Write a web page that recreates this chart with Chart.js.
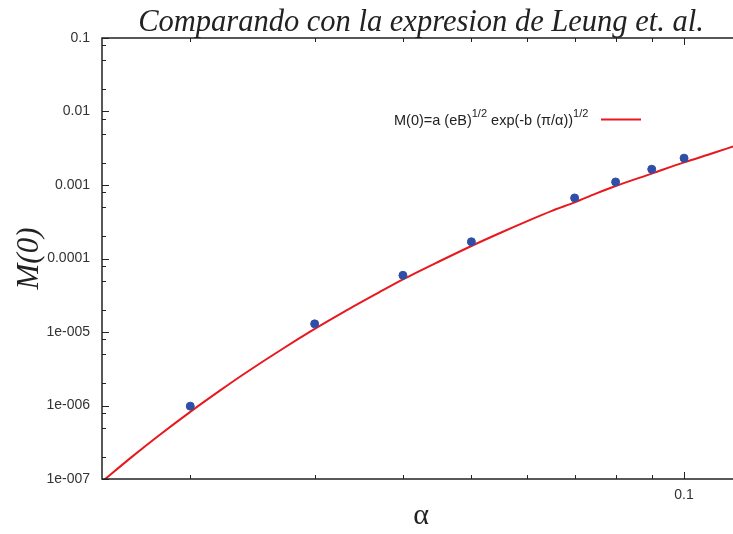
<!DOCTYPE html>
<html>
<head>
<meta charset="utf-8">
<script src="https://cdn.jsdelivr.net/npm/chart.js@4.4.1/dist/chart.umd.min.js"></script>
<style>
  html, body { margin: 0; padding: 0; background: #fff; }
  #wrap { width: 733px; height: 534px; overflow: hidden; }
</style>
</head>
<body>
<div id="wrap"><canvas id="myChart" width="760" height="534"></canvas></div>
<script>
// measured points M(0) vs alpha
const alphaPts = [0.02, 0.03, 0.04, 0.05, 0.07, 0.08, 0.09, 0.1];
const mPts = [9.8e-7, 1.29e-5, 5.9e-5, 1.69e-4, 6.67e-4, 1.10e-3, 1.64e-3, 2.32e-3];

// fitted curve
const fitAlpha = [0.015, 0.0165, 0.018, 0.02, 0.022, 0.024, 0.027, 0.03, 0.033, 0.037, 0.04, 0.045,
    0.05, 0.055, 0.06, 0.065, 0.07, 0.075, 0.08, 0.09, 0.1, 0.11, 0.12];
const fitM = [9.2e-8, 1.97e-7, 3.82e-7, 8.2e-7, 1.58e-6, 2.81e-6, 5.87e-6, 1.1e-5, 1.88e-5, 3.46e-5, 5.2e-5, 9.1e-5,
    1.48e-4, 2.24e-4, 3.23e-4, 4.45e-4, 5.8e-4, 7.64e-4, 9.7e-4, 1.43e-3, 2.03e-3, 2.72e-3, 3.6e-3];

const xTicks = [0.02, 0.03, 0.04, 0.05, 0.06, 0.07, 0.08, 0.09, 0.1];
const xLabels = { 0.1: '0.1' };
const yTicks = [1e-7, 1e-6, 1e-5, 1e-4, 1e-3, 1e-2, 1e-1];
const yLabels = ['1e-007', '1e-006', '1e-005', '0.0001', '0.001', '0.01', '0.1'];
const yMinorFactors = [2, 5, 8];

const legendParts = [
    { text: 'M(0)=a (eB)', sup: false },
    { text: '1/2', sup: true },
    { text: ' exp(-b (\u03c0/\u03b1))', sup: false },
    { text: '1/2', sup: true }
];

const frameAndTicks = {
    id: 'frameAndTicks',
    afterDatasetsDraw(chart) {
        const ctx = chart.ctx;
        const a = chart.chartArea;
        const xs = chart.scales.x;
        const ys = chart.scales.y;
        ctx.save();
        ctx.strokeStyle = '#222';
        ctx.lineWidth = 1;
        // y ticks, inward on both sides
        yTicks.forEach(v => {
            const y = Math.round(ys.getPixelForValue(v)) + 0.5;
            ctx.beginPath();
            ctx.moveTo(a.left, y); ctx.lineTo(a.left + 7, y);
            ctx.moveTo(a.right, y); ctx.lineTo(a.right - 7, y);
            ctx.stroke();
            yMinorFactors.forEach(f => {
                const mv = v * f / 10;
                if (mv <= 1e-7) return;
                const my = Math.round(ys.getPixelForValue(mv)) + 0.5;
                ctx.beginPath();
                ctx.moveTo(a.left, my); ctx.lineTo(a.left + 4, my);
                ctx.moveTo(a.right, my); ctx.lineTo(a.right - 4, my);
                ctx.stroke();
            });
        });
        // x ticks, inward top and bottom
        xTicks.forEach(v => {
            const x = Math.round(xs.getPixelForValue(v)) + 0.5;
            const len = v === 0.1 ? 7 : 4;
            ctx.beginPath();
            ctx.moveTo(x, a.bottom); ctx.lineTo(x, a.bottom - len);
            ctx.moveTo(x, a.top); ctx.lineTo(x, a.top + len);
            ctx.stroke();
        });
        // frame
        ctx.lineWidth = 1.5;
        ctx.strokeRect(a.left, a.top, a.right - a.left, a.bottom - a.top);
        ctx.restore();
    },
    afterDraw(chart) {
        // legend with superscripts
        const ctx = chart.ctx;
        ctx.save();
        ctx.fillStyle = '#222';
        ctx.textBaseline = 'alphabetic';
        let x = 394;
        const base = 125;
        legendParts.forEach(p => {
            ctx.font = p.sup ? '11px "Liberation Sans", Arial' : '14.5px "Liberation Sans", Arial';
            ctx.fillText(p.text, x, p.sup ? base - 8 : base);
            x += ctx.measureText(p.text).width;
        });
        ctx.strokeStyle = '#e8191e';
        ctx.lineWidth = 2;
        ctx.beginPath();
        ctx.moveTo(601, 119.5); ctx.lineTo(641, 119.5);
        ctx.stroke();
        ctx.restore();
    }
};

const ctx = document.getElementById('myChart').getContext('2d');
const myChart = new Chart(ctx, {
    type: 'scatter',
    data: {
        datasets: [
            {
                label: 'datos',
                data: alphaPts.map((a, i) => ({ x: a, y: mPts[i] })),
                backgroundColor: '#2f4fa6',
                borderColor: '#2f4fa6',
                pointRadius: 4,
                showLine: false
            },
            {
                label: 'M(0)=a (eB)^1/2 exp(-b (\u03c0/\u03b1))^1/2',
                data: fitAlpha.map((a, i) => ({ x: a, y: fitM[i] })),
                borderColor: '#e8191e',
                backgroundColor: '#e8191e',
                borderWidth: 2,
                pointRadius: 0,
                showLine: true,
                tension: 0.3
            }
        ]
    },
    options: {
        responsive: false,
        animation: false,
        devicePixelRatio: 1,
        layout: { padding: { left: 0, right: 20, top: 0, bottom: 0 } },
        plugins: {
            legend: { display: false },
            tooltip: { enabled: false },
            title: {
                display: true,
                fullSize: false,
                text: 'Comparando con la expresion de Leung et. al.',
                color: '#222',
                font: { family: '"Liberation Serif", "Times New Roman", serif', size: 30.5, style: 'italic', weight: 'normal', lineHeight: 0.8 },
                padding: { top: 10.3, bottom: 3.3 }
            }
        },
        scales: {
            x: {
                type: 'logarithmic',
                min: 0.015,
                max: 0.12,
                grid: { display: false, drawTicks: false },
                border: { display: false },
                afterBuildTicks: s => { s.ticks = xTicks.map(v => ({ value: v })); },
                afterFit: s => { s.height = 55; },
                ticks: {
                    autoSkip: false,
                    maxRotation: 0,
                    padding: 8,
                    color: '#333',
                    font: { family: '"Liberation Sans", Arial', size: 14 },
                    callback: v => xLabels[v] || ''
                },
                title: {
                    display: true,
                    text: '\u03b1',
                    color: '#222',
                    font: { family: '"Liberation Serif", "Times New Roman", serif', size: 30 },
                    padding: { top: 0, bottom: 0 }
                }
            },
            y: {
                type: 'logarithmic',
                min: 1e-7,
                max: 0.1,
                grid: { display: false, drawTicks: false },
                border: { display: false },
                afterBuildTicks: s => { s.ticks = yTicks.map(v => ({ value: v })); },
                afterFit: s => { s.width = 102; },
                ticks: {
                    autoSkip: false,
                    padding: 12,
                    color: '#333',
                    font: { family: '"Liberation Sans", Arial', size: 14 },
                    callback: (v) => {
                        const i = yTicks.findIndex(t => Math.abs(t - v) / t < 1e-6);
                        return i >= 0 ? yLabels[i] : '';
                    }
                },
                title: {
                    display: true,
                    text: 'M(0)',
                    color: '#222',
                    font: { family: '"Liberation Serif", "Times New Roman", serif', size: 31, style: 'italic' },
                    padding: { top: 11, bottom: 0 }
                }
            }
        }
    },
    plugins: [frameAndTicks]
});
</script>
</body>
</html>
